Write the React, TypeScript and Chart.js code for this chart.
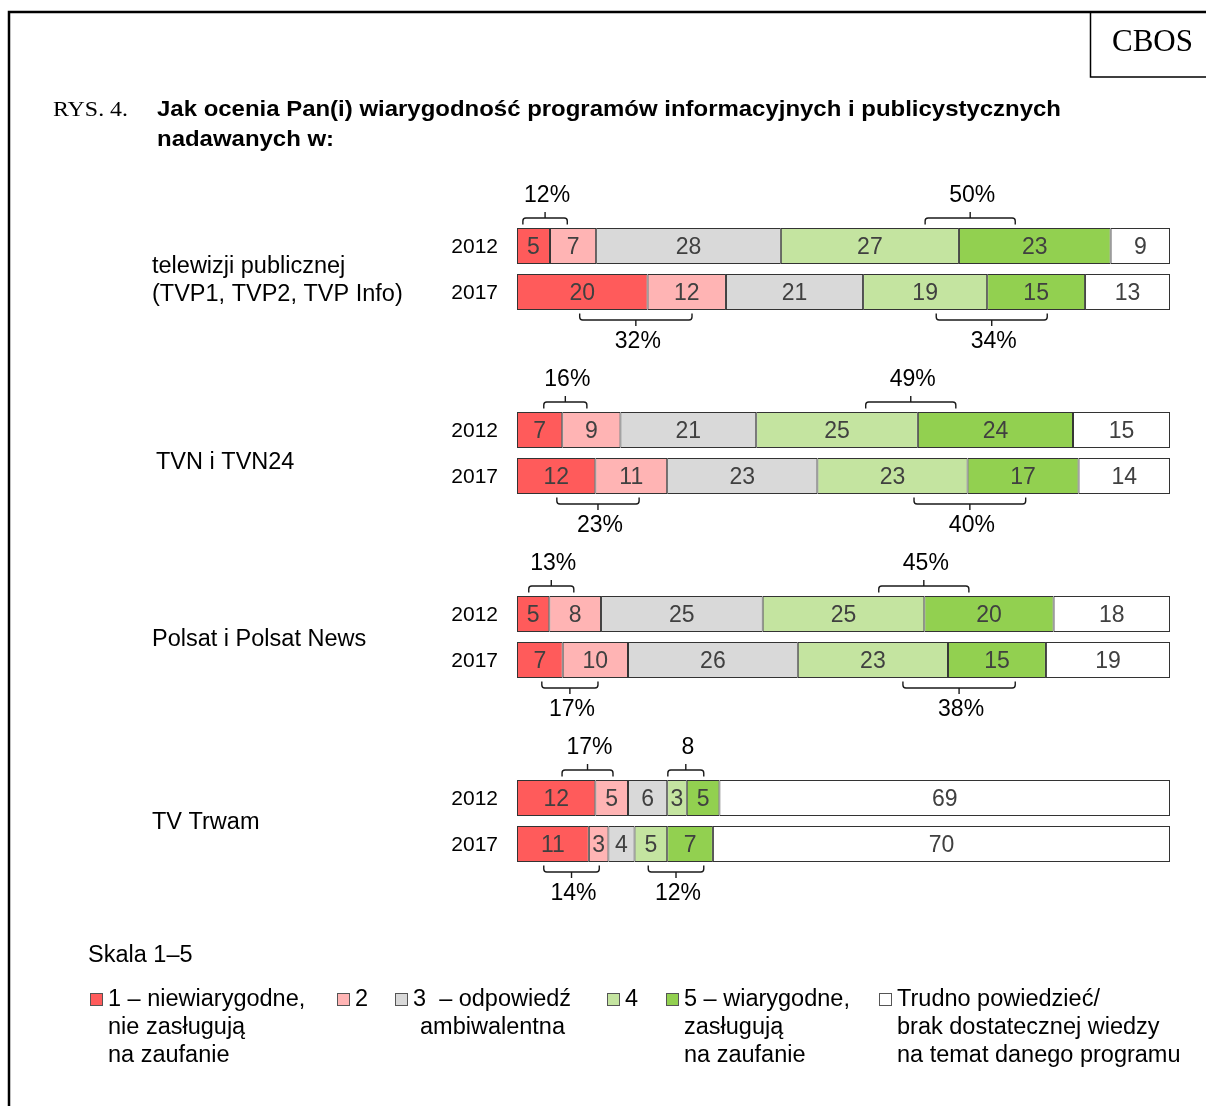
import React, { useEffect, useRef } from 'react';
import { Chart, registerables } from 'chart.js';

Chart.register(...registerables);

// ---------- DATA ----------
const channels: string[][] = [
  ['telewizji publicznej', '(TVP1, TVP2, TVP Info)'],
  ['TVN i TVN24'],
  ['Polsat i Polsat News'],
  ['TV Trwam'],
];
const years = ['2012', '2017'];
// rows: TVP 2012, TVP 2017, TVN 2012, TVN 2017, Polsat 2012, Polsat 2017, Trwam 2012, Trwam 2017
const score1 = [5, 20, 7, 12, 5, 7, 12, 11];
const score2 = [7, 12, 9, 11, 8, 10, 5, 3];
const score3 = [28, 21, 21, 23, 25, 26, 6, 4];
const score4 = [27, 19, 25, 23, 25, 23, 3, 5];
const score5 = [23, 15, 24, 17, 20, 15, 5, 7];
const hardToSay = [9, 13, 15, 14, 18, 19, 69, 70];

const distrustLabels = ['12%', '32%', '16%', '23%', '13%', '17%', '17%', '14%'];
const trustLabels = ['50%', '34%', '49%', '40%', '45%', '38%', '8', '12%'];
// bracket spans in % of the bar
const distrustSpans = [[0.9, 7.7], [9.6, 26.8], [4.1, 10.7], [6.1, 18.7], [1.8, 8.7], [3.8, 12.4], [6.9, 14.7], [4.1, 12.6]];
const trustSpans = [[62.5, 76.3], [64.2, 81.2], [53.4, 67.2], [60.8, 77.9], [55.4, 69.2], [59.1, 76.3], [23.1, 28.6], [20.1, 28.6]];

const seriesNames: string[][] = [
  ['1 – niewiarygodne,', 'nie zasługują', 'na zaufanie'],
  ['2'],
  ['3  – odpowiedź', 'ambiwalentna'],
  ['4'],
  ['5 – wiarygodne,', 'zasługują', 'na zaufanie'],
  ['Trudno powiedzieć/', 'brak dostatecznej wiedzy', 'na temat danego programu'],
];
const seriesColors = ['#FF5B5B', '#FFB4B4', '#D9D9D9', '#C4E4A0', '#92D050', '#FFFFFF'];

const titleLines = [
  'Jak ocenia Pan(i) wiarygodność programów informacyjnych i publicystycznych',
  'nadawanych w:',
];
const figureTag = 'RYS. 4.';
const brand = 'CBOS';
const scaleTitle = 'Skala 1–5';

// ---------- LAYOUT ----------
const W = 1206;
const H = 1106;
const SANS = '"Liberation Sans", Arial, sans-serif';
const SERIF = '"Liberation Serif", "Times New Roman", serif';
const catLabelX = [152, 156, 152, 152];
const catLabelDy = [12, 10, 3, 2];
const legendSquareX = [90, 337, 395, 607, 666, 879];
const legendIndent = [0, 0, 7, 0, 0, 0];

export default function App() {
  const ref = useRef<HTMLCanvasElement>(null);

  useEffect(() => {
    const canvas = ref.current!;
    const series = [score1, score2, score3, score4, score5, hardToSay];
    const rows = channels.length * years.length;
    const rowSums = Array.from({ length: rows }, (_, r) => series.reduce((s, a) => s + a[r], 0));
    const slotOf = (r: number) => Math.floor(r / 2) * 4 + (r % 2);
    const nSlots = slotOf(rows - 1) + 1;
    const labels = Array.from({ length: nSlots }, (_, i) => String(i));

    const datasets = series.map((vals, i) => {
      const data: (number | null)[] = Array(nSlots).fill(null);
      vals.forEach((v, r) => {
        data[slotOf(r)] = (v / rowSums[r]) * 100;
      });
      return {
        label: seriesNames[i].join(' '),
        data,
        backgroundColor: seriesColors[i],
        borderColor: '#333333',
        borderWidth: 1,
        borderSkipped: false as const,
        barPercentage: 36 / 46,
        categoryPercentage: 1,
      };
    });

    const decor = {
      id: 'decor',
      beforeDraw(chart: any) {
        const ctx = chart.ctx;
        ctx.save();
        ctx.fillStyle = '#fff';
        ctx.fillRect(0, 0, W, H);
        ctx.restore();
      },
      afterDraw(chart: any) {
        const ctx: CanvasRenderingContext2D = chart.ctx;
        const xs = chart.scales.x;
        const ys = chart.scales.y;
        ctx.save();
        ctx.textBaseline = 'middle';

        // frame
        ctx.strokeStyle = '#000';
        ctx.lineWidth = 2.5;
        ctx.beginPath();
        ctx.moveTo(9, H + 5);
        ctx.lineTo(9, 12);
        ctx.lineTo(W + 5, 12);
        ctx.stroke();
        // CBOS box
        ctx.lineWidth = 1.5;
        ctx.beginPath();
        ctx.moveTo(1090.5, 12);
        ctx.lineTo(1090.5, 77);
        ctx.lineTo(W + 5, 77);
        ctx.stroke();
        ctx.fillStyle = '#000';
        ctx.font = `31px ${SERIF}`;
        ctx.textAlign = 'left';
        ctx.fillText(brand, 1112, 43);

        // figure tag + title
        ctx.font = `22px ${SERIF}`;
        ctx.save();
        const tw = ctx.measureText(figureTag).width;
        ctx.translate(53, 110);
        ctx.scale(75 / tw, 1);
        ctx.fillText(figureTag, 0, 0);
        ctx.restore();
        ctx.font = `bold 22px ${SANS}`;
        const w1 = ctx.measureText(titleLines[0]).width;
        const sx = 904 / w1;
        titleLines.forEach((line, i) => {
          ctx.save();
          ctx.translate(157, 110 + i * 30);
          ctx.scale(sx, 1);
          ctx.fillText(line, 0, 0);
          ctx.restore();
        });

        // category labels
        ctx.font = `23.5px ${SANS}`;
        channels.forEach((lines, g) => {
          const yc = (ys.getPixelForValue(slotOf(g * 2)) + ys.getPixelForValue(slotOf(g * 2 + 1))) / 2 + catLabelDy[g];
          const lh = 28;
          const y0 = yc - ((lines.length - 1) * lh) / 2;
          lines.forEach((t, k) => ctx.fillText(t, catLabelX[g], y0 + k * lh));
        });

        // year labels
        ctx.font = `21px ${SANS}`;
        ctx.textAlign = 'right';
        for (let r = 0; r < rows; r++) {
          ctx.fillText(years[r % 2], 498, ys.getPixelForValue(slotOf(r)) + 1);
        }

        // value labels
        ctx.font = `23px ${SANS}`;
        ctx.textAlign = 'center';
        ctx.fillStyle = '#404040';
        series.forEach((vals, i) => {
          const meta = chart.getDatasetMeta(i);
          vals.forEach((v, r) => {
            const el = meta.data[slotOf(r)];
            if (!el) return;
            ctx.fillText(String(v), (el.x + el.base) / 2, el.y + 2);
          });
        });

        // brackets
        ctx.fillStyle = '#000';
        ctx.strokeStyle = '#1a1a1a';
        ctx.lineWidth = 1.4;
        const half = 18;
        const drawBracket = (a: number, b: number, yBar: number, dir: number, label: string) => {
          const x1 = xs.getPixelForValue(a);
          const x2 = xs.getPixelForValue(b);
          const xc = (x1 + x2) / 2;
          const yEnd = yBar + dir * 3.5;
          const yH = yBar + dir * 10;
          const yT = yBar + dir * 16;
          const rr = 3;
          ctx.beginPath();
          ctx.moveTo(x1, yEnd);
          ctx.lineTo(x1, yH - dir * rr);
          ctx.quadraticCurveTo(x1, yH, x1 + rr, yH);
          ctx.lineTo(x2 - rr, yH);
          ctx.quadraticCurveTo(x2, yH, x2, yH - dir * rr);
          ctx.lineTo(x2, yEnd);
          ctx.moveTo(xc, yH);
          ctx.lineTo(xc, yT);
          ctx.stroke();
          ctx.fillText(label, xc + 2, yBar + dir * 32);
        };
        ctx.font = `23px ${SANS}`;
        for (let r = 0; r < rows; r++) {
          const yc = ys.getPixelForValue(slotOf(r));
          const dir = r % 2 === 0 ? -1 : 1;
          const yBar = yc + dir * half;
          drawBracket(distrustSpans[r][0], distrustSpans[r][1], yBar, dir, distrustLabels[r]);
          drawBracket(trustSpans[r][0], trustSpans[r][1], yBar, dir, trustLabels[r]);
        }

        // legend
        ctx.textAlign = 'left';
        ctx.font = `23.5px ${SANS}`;
        ctx.fillStyle = '#000';
        ctx.fillText(scaleTitle, 88, 956);
        const ly = 1000;
        seriesNames.forEach((lines, i) => {
          const sxq = legendSquareX[i];
          ctx.fillStyle = seriesColors[i];
          ctx.fillRect(sxq, ly - 7, 13, 13);
          ctx.strokeStyle = '#555';
          ctx.lineWidth = 1;
          ctx.strokeRect(sxq + 0.5, ly - 6.5, 12, 12);
          ctx.fillStyle = '#000';
          lines.forEach((t, k) => ctx.fillText(t, sxq + 18 + (k > 0 ? legendIndent[i] : 0), ly + k * 28));
        });

        ctx.restore();
      },
    };

    const chart = new Chart(canvas, {
      type: 'bar',
      data: { labels, datasets },
      options: {
        indexAxis: 'y',
        responsive: false,
        animation: false,
        devicePixelRatio: 1,
        layout: { padding: { left: 517, right: W - 1170, top: 223, bottom: H - 867 } },
        scales: {
          x: { stacked: true, min: 0, max: 100, display: false },
          y: { stacked: true, display: false },
        },
        plugins: {
          legend: { display: false },
          tooltip: { enabled: false },
          title: { display: false },
        },
      },
      plugins: [decor],
    });
    return () => chart.destroy();
  }, []);

  return (
    <div style={{ position: 'absolute', left: 0, top: 0, width: W, height: H, background: '#fff' }}>
      <canvas ref={ref} width={W} height={H} style={{ display: 'block', width: W, height: H }} />
    </div>
  );
}
